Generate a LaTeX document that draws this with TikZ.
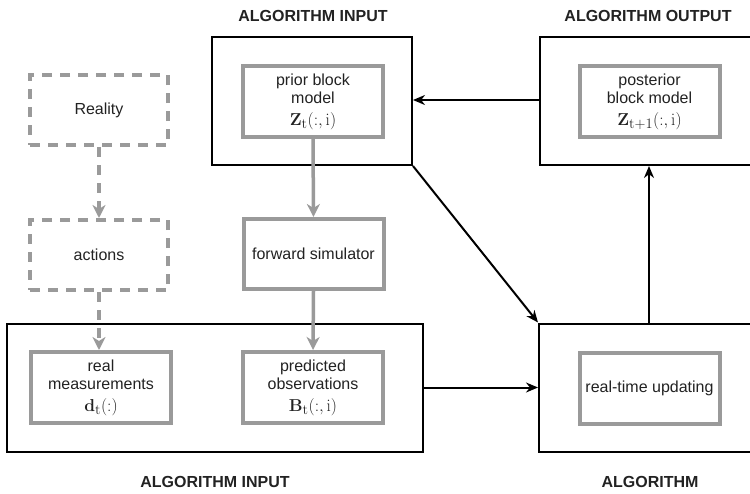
\documentclass[tikz,border=0pt]{standalone}
\usepackage[no-math]{fontspec}
\setmainfont{Liberation Sans}
\usetikzlibrary{arrows.meta}
\definecolor{boxgray}{HTML}{9A9A9A}
\definecolor{txt}{HTML}{222222}
\tikzset{
  outerbox/.style={draw=black, line width=2pt, minimum width=#1, minimum height=128pt, inner sep=0pt},
  graybox/.style={draw=boxgray, line width=4pt, minimum width=140pt, minimum height=71pt, inner sep=0pt, align=center, text=txt, font=\fontsize{16}{18}\selectfont},
  dashbox/.style={draw=boxgray, line width=4pt, dash pattern=on 10pt off 8pt, minimum width=138pt, minimum height=70pt, inner sep=0pt, text=txt, font=\fontsize{16}{18}\selectfont},
  heading/.style={font=\bfseries\fontsize{16}{18}\selectfont, text=txt},
  blackarrow/.style={line width=2pt, -{Stealth[length=12pt, width=10pt]}},
  grayarrow/.style={draw=boxgray, line width=3.5pt, -{Stealth[length=13pt, width=13pt, inset=4pt]}}
}
\newcommand{\mth}[1]{{\fontsize{19}{22}\selectfont$#1$}}
\begin{document}
\begin{tikzpicture}[x=1pt, y=-1pt]
\useasboundingbox (0,0) rectangle (750,493);
\clip (0,0) rectangle (750,493);
% outer boxes
\node[outerbox=200pt] (tl) at (312,101) {};
\node[outerbox=218pt] (tr) at (649,101) {};
\node[outerbox=416pt] (bl) at (215,387.5) {};
\node[outerbox=220pt] (br) at (649,387.5) {};
% headings
\node[heading] (h1) at (313,16) {ALGORITHM INPUT};
\node[heading] (h2) at (648,16) {ALGORITHM OUTPUT};
\node[heading] (h3) at (215,482) {ALGORITHM INPUT};
\node[heading] (h4) at (650,482) {ALGORITHM};
% gray boxes
\node[graybox] (prior) at (313,101.5) {prior block\\model\\[4pt]\mth{\mathbf{Z}_{\mathrm{t}}(:,\mathrm{i})}};
\node[graybox] (post) at (649.5,101.5) {posterior\\block model\\[4pt]\mth{\mathbf{Z}_{\mathrm{t+1}}(:,\mathrm{i})}};
\node[graybox, minimum height=70pt] (fwd) at (313.5,254) {forward simulator};
\node[graybox] (meas) at (101,387.5) {real\\measurements\\[4pt]\mth{\mathbf{d}_{\mathrm{t}}(:)}};
\node[graybox] (pred) at (313,387.5) {predicted\\observations\\[4pt]\mth{\mathbf{B}_{\mathrm{t}}(:,\mathrm{i})}};
\node[graybox] (rtu) at (649.5,388) {real-time updating};
% dashed boxes
\node[dashbox] (real) at (99,110) {Reality};
\node[dashbox] (act) at (99,255) {actions};
% gray arrows
\draw[grayarrow] (prior.south) -- (fwd.north);
\draw[grayarrow] (fwd.south) -- (pred.north);
\draw[grayarrow, dash pattern=on 10pt off 8pt] (real.south) -- (act.north);
\draw[grayarrow, dash pattern=on 10pt off 8pt] (act.south) -- (act.south |- meas.north);
% black arrows
\draw[blackarrow] (tr.west |- 0,100) -- (tl.east |- 0,100);
\draw[blackarrow] (tl.south east) -- (br.north west);
\draw[blackarrow] (bl.east) -- (br.west);
\draw[blackarrow] (br.north) -- (tr.south);
\end{tikzpicture}
\end{document}
